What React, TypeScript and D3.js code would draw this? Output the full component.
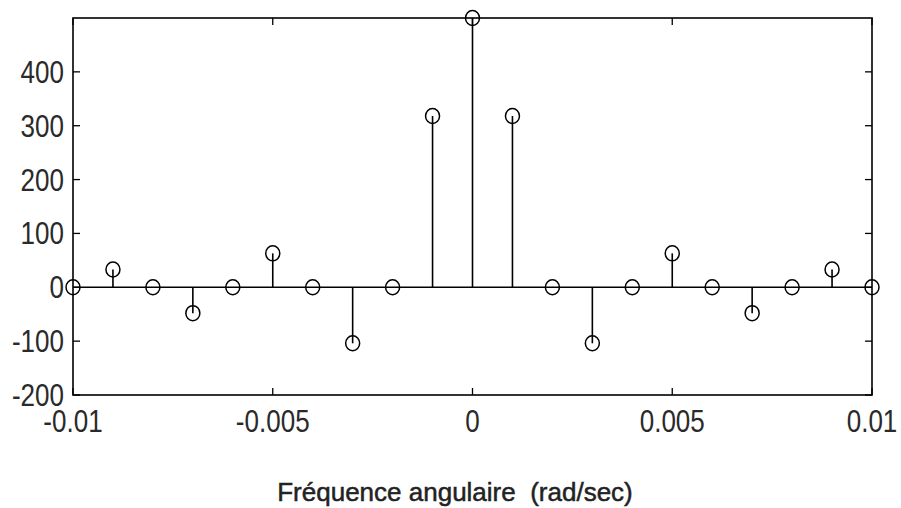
import React from "react";
import * as d3 from "d3";

const freqs = [-0.01, -0.009, -0.008, -0.007, -0.006, -0.005, -0.004, -0.003, -0.002, -0.001, 0, 0.001, 0.002, 0.003, 0.004, 0.005, 0.006, 0.007, 0.008, 0.009, 0.01];
const amps = [0, 33, 0, -48, 0, 63, 0, -104, 0, 318, 500, 318, 0, -104, 0, 63, 0, -48, 0, 33, 0];
const yTicks = [-200, -100, 0, 100, 200, 300, 400];
const xTicks = [-0.01, -0.005, 0, 0.005, 0.01];
const xTickLabels = ["-0.01", "-0.005", "0", "0.005", "0.01"];
const xLabel = "Fréquence angulaire  (rad/sec)";

export default function App() {
  const W = 901, H = 508;
  const x = d3.scaleLinear().domain([-0.01, 0.01]).range([73, 872]);
  const y = d3.scaleLinear().domain([-200, 500]).range([395, 18]);
  const font = "'Liberation Sans', Arial, sans-serif";
  const tl = 7;
  return (
    <svg width={W} height={H} style={{ position: "absolute", left: 0, top: 0, background: "#fff" }}>
      <rect x={0} y={0} width={W} height={H} fill="#fff" />
      {yTicks.map((t) => (
        <g key={"yt" + t}>
          <line x1={x(-0.01)} x2={x(-0.01) + tl} y1={y(t)} y2={y(t)} stroke="#000" strokeWidth={1.3} />
          <line x1={x(0.01)} x2={x(0.01) - tl} y1={y(t)} y2={y(t)} stroke="#000" strokeWidth={1.3} />
          <text
            transform={`translate(64,${y(t) + 11}) scale(0.84,1)`}
            textAnchor="end"
            fontFamily={font}
            fontSize={31}
            fill="#2a2a2a"
          >
            {t}
          </text>
        </g>
      ))}
      {xTicks.map((t, i) => (
        <g key={"xt" + i}>
          <line x1={x(t)} x2={x(t)} y1={y(-200)} y2={y(-200) - tl} stroke="#000" strokeWidth={1.3} />
          <line x1={x(t)} x2={x(t)} y1={y(500)} y2={y(500) + tl} stroke="#000" strokeWidth={1.3} />
          <text
            transform={`translate(${x(t)},432) scale(0.84,1)`}
            textAnchor="middle"
            fontFamily={font}
            fontSize={31}
            fill="#2a2a2a"
          >
            {xTickLabels[i]}
          </text>
        </g>
      ))}
      <rect x={x(-0.01)} y={y(500)} width={x(0.01) - x(-0.01)} height={y(-200) - y(500)} fill="none" stroke="#000" strokeWidth={1.6} />
      <line x1={x(-0.01)} x2={x(0.01)} y1={y(0)} y2={y(0)} stroke="#000" strokeWidth={1.6} />
      {freqs.map((f, i) => (
        <g key={"s" + i}>
          <line x1={x(f)} x2={x(f)} y1={y(0)} y2={y(amps[i])} stroke="#000" strokeWidth={1.6} />
          <ellipse cx={x(f)} cy={y(amps[i])} rx={7} ry={7.5} fill="none" stroke="#000" strokeWidth={1.5} />
        </g>
      ))}
      <text
        x={455}
        y={501}
        textAnchor="middle"
        fontFamily={font}
        fontSize={26}
        fill="#222"
        stroke="#222"
        strokeWidth={0.5}
        style={{ whiteSpace: "pre" }}
      >
        {xLabel}
      </text>
    </svg>
  );
}
